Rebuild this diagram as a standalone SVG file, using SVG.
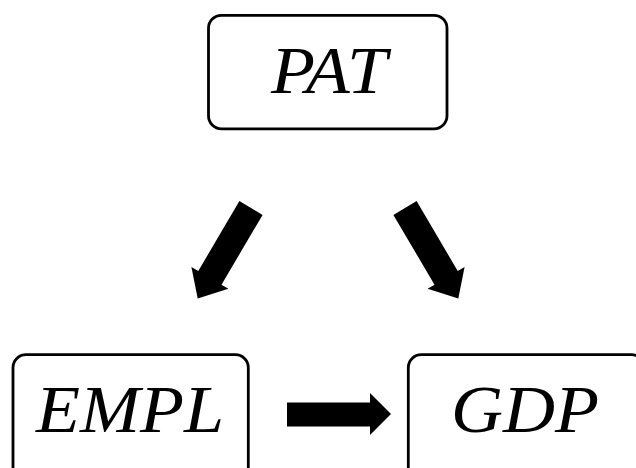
<svg xmlns="http://www.w3.org/2000/svg" width="636" height="468" viewBox="0 0 636 468">
  <style>
    .box { fill: #fff; stroke: #000; stroke-width: 2.8; }
    .lbl { font-family: "Liberation Serif", "Times New Roman", serif; font-style: italic; font-size: 68px; fill: #000; text-anchor: middle; }
    .arrow { fill: #000; stroke: none; }
  </style>
  <defs>
    <!-- block arrow pointing down-right, drawn as a filled outline -->
    <polygon id="diagArrow" points="393.4,214.9 416.6,201.1 457.7,270.9 464.6,266.9 458.3,298.5 427.6,288.7 434.5,284.7"/>
  </defs>
  <rect width="636" height="468" fill="#fff"/>

  <g id="node-pat">
    <rect class="box" x="208.5" y="15.3" width="238.5" height="113.5" rx="13"/>
    <text class="lbl" transform="translate(329,93) scale(1.06,1)">PAT</text>
  </g>

  <g id="node-empl">
    <rect class="box" x="13" y="354.7" width="235.3" height="130" rx="13"/>
    <text class="lbl" transform="translate(130,432) scale(1.06,1)">EMPL</text>
  </g>

  <g id="node-gdp">
    <rect class="box" x="408.3" y="354.7" width="236" height="130" rx="13"/>
    <text class="lbl" transform="translate(525,432) scale(1.06,1)">GDP</text>
  </g>

  <g id="connectors">
    <use href="#diagArrow" class="arrow" transform="translate(656,0) scale(-1,1)"/>
    <use href="#diagArrow" class="arrow"/>
    <polygon class="arrow" points="287,402.5 370,402.5 370,393 391,414 370,435 370,426.5 287,426.5"/>
  </g>
</svg>
